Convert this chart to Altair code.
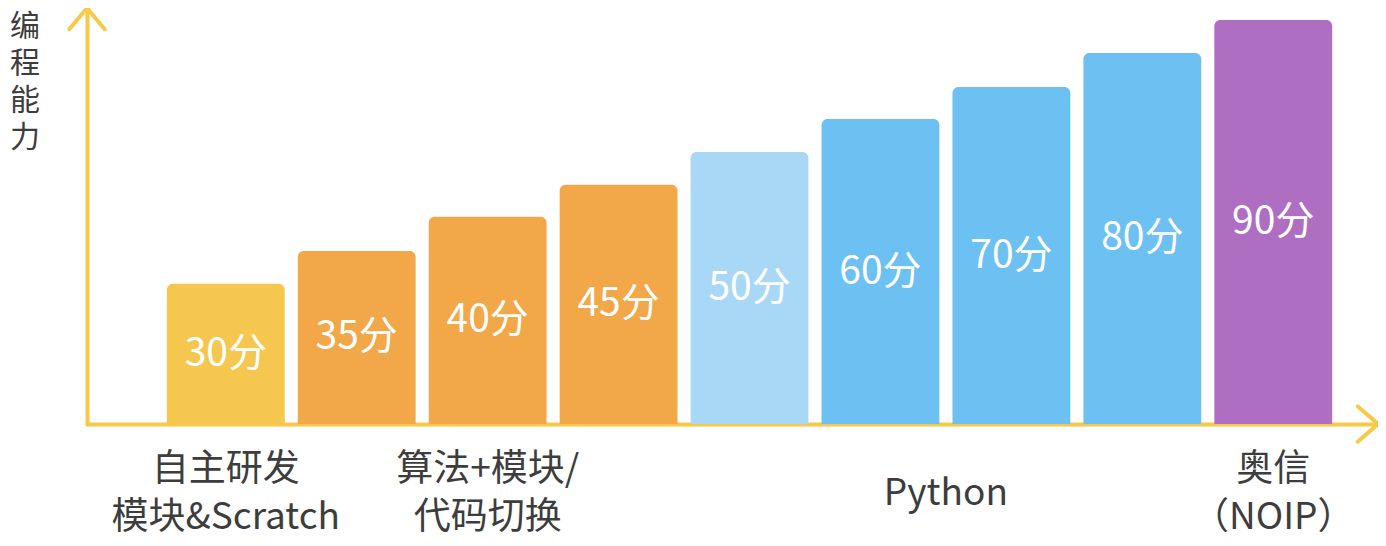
import altair as alt
import pandas as pd

# ---- data ----
scores = [30, 35, 40, 45, 50, 60, 70, 80, 90]
levels = [3.37, 4.16, 4.98, 5.75, 6.54, 7.33, 8.10, 8.92, 9.71]   # bar heights (arbitrary units)
tiers = ["图形化", "代码", "代码", "代码", "Python入门", "Python", "Python", "Python", "奥信"]
tier_order = ["图形化", "代码", "Python入门", "Python", "奥信"]
tier_colors = ["#F5C74F", "#F2A748", "#A8D8F5", "#6DC0F2", "#AE6EC2"]

group_labels = ["自主研发\n模块&Scratch", "算法+模块/\n代码切换", "Python", "奥信\n（NOIP）"]
group_first = [1, 2, 5, 9]
group_last = [1, 4, 8, 9]

y_title = ["编", "程", "能", "力"]

X_MIN, X_MAX = -0.06, 9.80
Y_MAX = 10

AXIS_COLOR = "#F7C948"
TEXT_COLOR = "#3d3d3d"
FONT = "Noto Sans CJK SC"
VIEW_W = 1291
VIEW_H = 416
PX_PER_Y = VIEW_H / Y_MAX
PX_PER_X = VIEW_W / (X_MAX - X_MIN)

bars_df = pd.DataFrame({"idx": list(range(1, len(scores) + 1)), "score": scores,
                        "level": levels, "tier": tiers})
groups_df = pd.DataFrame({"label": group_labels, "first": group_first, "last": group_last})
title_df = pd.DataFrame({"ch": y_title, "i": list(range(len(y_title)))})
arrows_df = pd.DataFrame({"x": [X_MIN, X_MAX], "y": [Y_MAX, 0],
                          "shape": ["M-1,1.2L0,0L1,1.2", "M-1.15,-1L0,0L-1.15,1"]})

xscale = alt.Scale(domain=[X_MIN, X_MAX], nice=False, zero=False, padding=0)
yscale = alt.Scale(domain=[0, Y_MAX], nice=False, padding=0)

xaxis = alt.Axis(domain=True, domainColor=AXIS_COLOR, domainWidth=4, domainCap="round",
                 ticks=False, labels=False, grid=False, title=None)
yaxis = alt.Axis(domain=True, domainColor=AXIS_COLOR, domainWidth=4, domainCap="round",
                 ticks=False, labels=False, grid=False, title=None)


def X(field):
    return alt.X(field, scale=xscale, axis=xaxis)


def Y(field):
    return alt.Y(field, scale=yscale, axis=yaxis)


base = alt.Chart(bars_df).transform_calculate(
    x0="datum.idx - 0.45", x1="datum.idx + 0.45",
    label="datum.score + '分'", mid="datum.level / 2")

bars = base.mark_bar(cornerRadiusTopLeft=6, cornerRadiusTopRight=6, orient="vertical").encode(
    x=X("x0:Q"),
    x2="x1:Q",
    y=Y("level:Q"),
    y2=alt.datum(0),
    color=alt.Color("tier:N", scale=alt.Scale(domain=tier_order, range=tier_colors), legend=None),
)

values = base.mark_text(font=FONT, fontSize=39, color="white", baseline="middle", align="center").encode(
    x=X("idx:Q"),
    y=Y("mid:Q"),
    text="label:N",
)

groups_base = alt.Chart(groups_df).transform_calculate(
    center="(datum.first + datum.last) / 2",
    multi="indexof(datum.label, '\\n') >= 0",
    line1="split(datum.label, '\\n')[0]",
    line2="split(datum.label, '\\n')[1]",
)

label_style = dict(font=FONT, fontSize=37, color=TEXT_COLOR, baseline="middle", align="center")

group_line1 = groups_base.transform_filter("datum.multi").mark_text(**label_style).encode(
    x=X("center:Q"), y=alt.value(462), text="line1:N")

group_line2 = groups_base.transform_filter("datum.multi").mark_text(**label_style).encode(
    x=X("center:Q"), y=alt.value(510), text="line2:N")

group_single = groups_base.transform_filter("!datum.multi").mark_text(**label_style).encode(
    x=X("center:Q"), y=alt.value(486), text="line1:N")

# vertical axis title, one character per line
title = alt.Chart(title_df).transform_calculate(
    tx=f"{X_MIN} - 62 / {PX_PER_X}",
    ty=f"{Y_MAX} - (19 + 37 * datum.i) / {PX_PER_Y}",
).mark_text(font=FONT, fontSize=30, color=TEXT_COLOR, baseline="middle", align="center").encode(
    x=X("tx:Q"), y=Y("ty:Q"), text="ch:N")

arrows = alt.Chart(arrows_df).mark_point(filled=False, strokeWidth=4, strokeCap="round",
                                         strokeJoin="round", color=AXIS_COLOR, opacity=1,
                                         size=1250).encode(
    x=X("x:Q"),
    y=Y("y:Q"),
    shape=alt.Shape("shape:N", scale=None, legend=None),
)

chart = alt.layer(bars, values, group_line1, group_line2, group_single, title, arrows).properties(
    width=VIEW_W, height=VIEW_H,
    autosize=alt.AutoSizeParams(type="none"),
    padding={"left": 79, "top": 0, "right": 0, "bottom": 114},
).configure_view(stroke=None)

chart.save("out.html", embed_options={"renderer": "svg", "actions": False})
